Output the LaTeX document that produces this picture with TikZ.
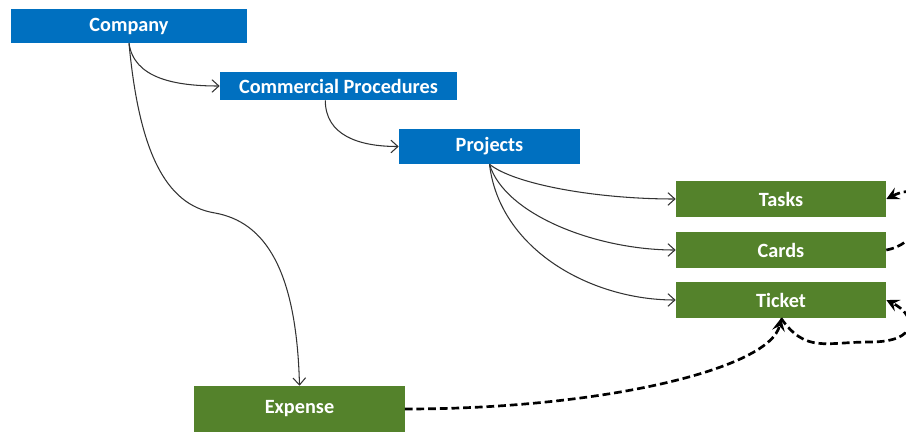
\documentclass[tikz,border=0pt]{standalone}
\usepackage{fontspec}
\setmainfont{Carlito}
\usetikzlibrary{arrows.meta}

\definecolor{officeblue}{RGB}{0,112,192}
\definecolor{officegreen}{RGB}{84,130,43}

\begin{document}
\begin{tikzpicture}
  [x=0.025cm,y=-0.025cm,
   every node/.style={inner sep=0pt,text=white,font=\fontsize{14.4}{17}\selectfont\bfseries},
   bluebox/.style={fill=officeblue},
   greenbox/.style={fill=officegreen,minimum width=5.25cm,minimum height=0.9cm},
   conn/.style={draw=black!80,line width=0.75pt,-{Straight Barb[length=5pt,width=9pt]}},
   dep/.style={draw=black,line width=1.9pt,dash pattern=on 5.5pt off 2.8pt,
     -{Stealth[length=9pt,width=9pt,inset=3.5pt]}}]
  \useasboundingbox (0,0) rectangle (906,434);
  \node[bluebox,minimum width=5.9cm,minimum height=0.85cm] (company) at (129,26) {Company};
  \node[bluebox,minimum width=5.925cm,minimum height=0.7cm] (commercial) at (338.5,86) {Commercial Procedures};
  \node[bluebox,minimum width=4.525cm,minimum height=0.875cm] (projects) at (489.5,146.5) {Projects};
  \node[greenbox] (tasks) at (781,199) {Tasks};
  \node[greenbox] (cards) at (781,250) {Cards};
  \node[greenbox] (ticket) at (781,300) {Ticket};
  \node[greenbox,minimum height=1.15cm] (expense) at (299.5,409) {Expense};
  \coordinate (bend) at (215,213);
  % tree links
  \draw[conn] (company.south) .. controls +(5,35) and +(-45,0) .. (commercial.west);
  \draw[conn] ([xshift=-0.33cm]commercial.south) .. controls +(0,35) and +(-40,0) .. (projects.west);
  \draw[conn] (projects.south) .. controls +(25,20) and +(-80,0) .. (tasks.west);
  \draw[conn] (projects.south) .. controls +(15,50) and +(-80,0) .. (cards.west);
  \draw[conn] (projects.south) .. controls +(10,85) and +(-85,0) .. (ticket.west);
  \draw[conn] (company.south) .. controls +(10,107) and +(-50,-8) .. (bend)
    .. controls +(50,9) and +(-3,-116) .. (expense.north);
  % dashed dependencies
  \draw[dep] (cards.east) .. controls +(45,-8) and +(50,-25) .. (tasks.east);
  \draw[dep] (ticket.south) .. controls +(25,35) and +(-45,0) .. (870,342)
    .. controls +(50,0) and +(30,15) .. (ticket.east);
  \draw[dep] (expense.east) .. controls +(200,0) and +(-10,50) .. (ticket.south);
\end{tikzpicture}
\end{document}
